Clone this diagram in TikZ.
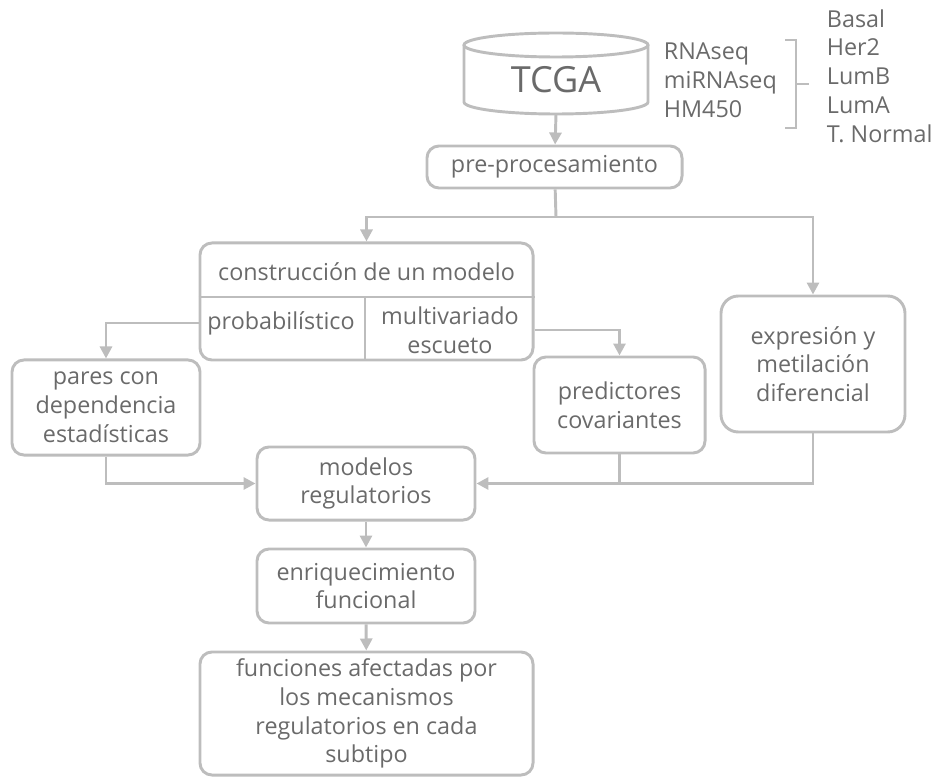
\documentclass[tikz,border=0pt]{standalone}
\usepackage{fontspec}
\setmainfont{Open Sans}
\usepackage{tikz}
\usetikzlibrary{arrows.meta,positioning,calc}
\usepackage{xcolor}
\definecolor{linegray}{HTML}{BDBDBD}
\definecolor{textgray}{HTML}{6A6A6A}

\begin{document}
\begin{tikzpicture}[x=0.75pt,y=-0.75pt,
	line width=2.2pt,
	every node/.style={text=textgray,font=\fontsize{17.5}{21.6}\selectfont},
	caja/.style={draw=linegray,rounded corners=9pt,align=center,inner sep=2pt},
	linea/.style={draw=linegray},
	flecha/.style={draw=linegray,-{Triangle[length=9pt,width=9pt]}}]
	\useasboundingbox (0,0) rectangle (936,777);
	% base de datos
	\path[linea,fill=white] (464,45) -- (464,102) arc[start angle=180,end angle=0,x radius=92,y radius=12] -- (648,45);
	\draw[linea] (556,45) ellipse [x radius=92,y radius=12];
	\node (tcga) at (556,80) {\fontsize{27}{30}\selectfont TCGA};
	\coordinate (tcgabase) at (556,114);
	\node[anchor=west,align=left] (datos) at (658,80) {RNAseq\\miRNAseq\\HM450};
	\node[anchor=west,align=left] (subtipos) at (821,76) {Basal\\Her2\\LumB\\LumA\\T. Normal};
	\draw[linea] (785,40) -- (796,40) -- (796,128) -- (785,128);
	\draw[linea] (796,84) -- (809,84);
	% cajas
	\node[caja,minimum width=191.3pt,minimum height=31.5pt] (prepro) at (554.5,167) {pre-procesamiento};
	\node[caja,minimum width=249.8pt,minimum height=87.8pt] (constr) at (366.5,301.5) {};
	\node (titulo) at (366.5,272) {construcción de un modelo};
	\node (prob) at (281,323) {probabilístico};
	\node[align=center] (multi) at (450,330) {multivariado\\escueto};
	\draw[linea] (constr.west |- 0,297) -- (constr.east |- 0,297);
	\draw[linea] (365,297) -- (constr.south -| 365,0);
	\node[caja,minimum width=141pt,minimum height=71.3pt] (pares) at (106,407.5) {pares con\\dependencia\\estadísticas};
	\node[caja,minimum width=128.3pt,minimum height=72pt] (predic) at (619.5,405) {predictores\\covariantes};
	\node[caja,rounded corners=13pt,minimum width=138pt,minimum height=102pt] (expres) at (813,364) {expresión y\\metilación\\diferencial};
	\node[caja,minimum width=163.5pt,minimum height=54.8pt] (modelos) at (366,483.5) {modelos\\regulatorios};
	\node[caja,minimum width=163.5pt,minimum height=55.5pt] (enriq) at (366,586) {enriquecimiento\\funcional};
	\node[caja,minimum width=249.8pt,minimum height=92.3pt] (func) at (366.5,713.5) {funciones afectadas por\\los mecanismos\\regulatorios en cada\\subtipo};
	% conectores
	\coordinate (split) at (556,217);
	\draw[flecha] (tcgabase) -- (prepro);
	\draw[linea] (prepro) -- (split);
	\draw[flecha] (split) -| (constr.north);
	\draw[flecha] (split) -| (expres.north);
	\draw[flecha] (constr.west |- prob) -| (pares.north);
	\draw[flecha] (constr.east |- multi) -| (predic.north);
	\draw[flecha] (pares.south) |- (modelos.west);
	\draw[flecha] (expres.south) |- (modelos.east);
	\draw[linea] (predic.south) -- (predic.south |- modelos.east);
	\draw[flecha] (modelos) -- (enriq);
	\draw[flecha] (enriq) -- (func);
\end{tikzpicture}
\end{document}
